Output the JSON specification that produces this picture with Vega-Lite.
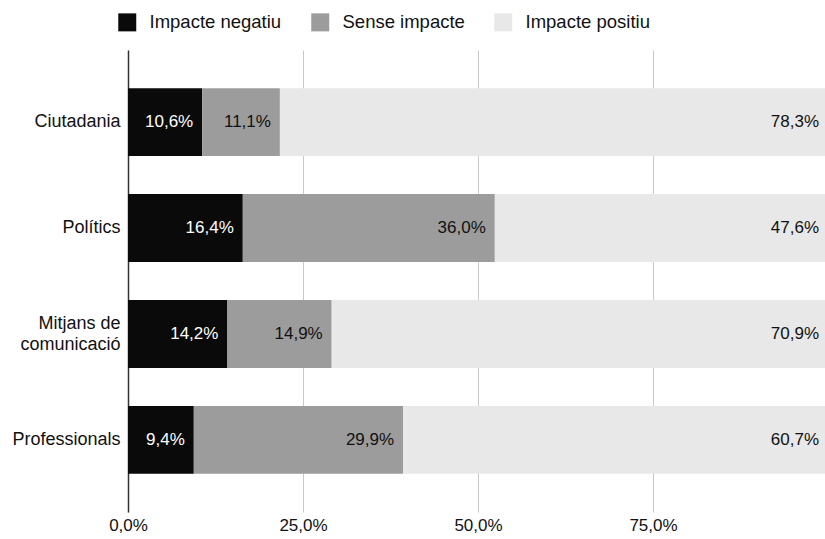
{
  "$schema": "https://vega.github.io/schema/vega-lite/v6.json",
  "width": 697,
  "height": 462,
  "autosize": {"type": "none"},
  "padding": {"left": 128, "top": 50, "right": 0, "bottom": 27},
  "background": "white",
  "config": {
    "font": "Liberation Sans",
    "view": {"stroke": null},
    "locale": {"number": {"decimal": ",", "thousands": ".", "grouping": [3], "currency": ["", " €"]}}
  },
  "data": {
    "values": [
      {"cat": "Ciutadania", "serie": "Impacte negatiu", "ord": 1, "value": 0.106},
      {"cat": "Ciutadania", "serie": "Sense impacte", "ord": 2, "value": 0.111},
      {"cat": "Ciutadania", "serie": "Impacte positiu", "ord": 3, "value": 0.783},
      {"cat": "Polítics", "serie": "Impacte negatiu", "ord": 1, "value": 0.164},
      {"cat": "Polítics", "serie": "Sense impacte", "ord": 2, "value": 0.360},
      {"cat": "Polítics", "serie": "Impacte positiu", "ord": 3, "value": 0.476},
      {"cat": "Mitjans de comunicació", "serie": "Impacte negatiu", "ord": 1, "value": 0.142},
      {"cat": "Mitjans de comunicació", "serie": "Sense impacte", "ord": 2, "value": 0.149},
      {"cat": "Mitjans de comunicació", "serie": "Impacte positiu", "ord": 3, "value": 0.709},
      {"cat": "Professionals", "serie": "Impacte negatiu", "ord": 1, "value": 0.094},
      {"cat": "Professionals", "serie": "Sense impacte", "ord": 2, "value": 0.299},
      {"cat": "Professionals", "serie": "Impacte positiu", "ord": 3, "value": 0.607}
    ]
  },
  "transform": [
    {"stack": "value", "groupby": ["cat"], "sort": [{"field": "ord", "order": "ascending"}], "as": ["v0", "v1"]}
  ],
  "encoding": {
    "y": {
      "field": "cat",
      "type": "nominal",
      "sort": ["Ciutadania", "Polítics", "Mitjans de comunicació", "Professionals"],
      "scale": {"paddingInner": 0.36, "paddingOuter": 0.36},
      "axis": {
        "title": null,
        "ticks": false,
        "labelPadding": 8,
        "labelFontSize": 18,
        "labelColor": "#111111",
        "domainColor": "#333333",
        "domainWidth": 1.5,
        "labelExpr": "datum.value == 'Mitjans de comunicació' ? ['Mitjans de', 'comunicació'] : datum.value",
        "labelLineHeight": 21,
        "labelOffset": {"condition": {"test": "datum.value == 'Mitjans de comunicació'", "value": -10}, "value": 0}
      }
    }
  },
  "layer": [
    {
      "mark": {"type": "bar"},
      "encoding": {
        "x": {
          "field": "v0",
          "type": "quantitative",
          "scale": {"domain": [0, 0.9957], "nice": false},
          "axis": {
            "title": null,
            "format": ".1%",
            "values": [0, 0.25, 0.5, 0.75],
            "domain": false,
            "ticks": false,
            "grid": true,
            "gridColor": "#c8c8c8",
            "gridWidth": 1,
            "labelFlush": false,
            "labelPadding": 5,
            "labelFontSize": 17,
            "labelColor": "#111111"
          }
        },
        "x2": {"field": "v1"},
        "color": {
          "field": "serie",
          "type": "nominal",
          "sort": ["Impacte negatiu", "Sense impacte", "Impacte positiu"],
          "scale": {"domain": ["Impacte negatiu", "Sense impacte", "Impacte positiu"], "range": ["#0a0a0a", "#9c9c9c", "#e8e8e8"]},
          "legend": {
            "title": null,
            "orient": "none",
            "direction": "horizontal",
            "legendX": -10,
            "legendY": -37,
            "symbolType": "square",
            "symbolSize": 324,
            "symbolStrokeWidth": 0,
            "labelFontSize": 18.5,
            "labelColor": "#111111",
            "labelOffset": 13,
            "columnPadding": 29
          }
        },
        "order": {"field": "ord"}
      }
    },
    {
      "mark": {"type": "text", "align": "right", "baseline": "middle", "dx": -9, "fontSize": 17},
      "encoding": {
        "x": {"field": "v1", "type": "quantitative"},
        "text": {"field": "value", "type": "quantitative", "format": ".1%"},
        "color": {
          "condition": {"test": "datum.ord == 1", "value": "white"},
          "value": "#111111"
        }
      }
    }
  ]
}
